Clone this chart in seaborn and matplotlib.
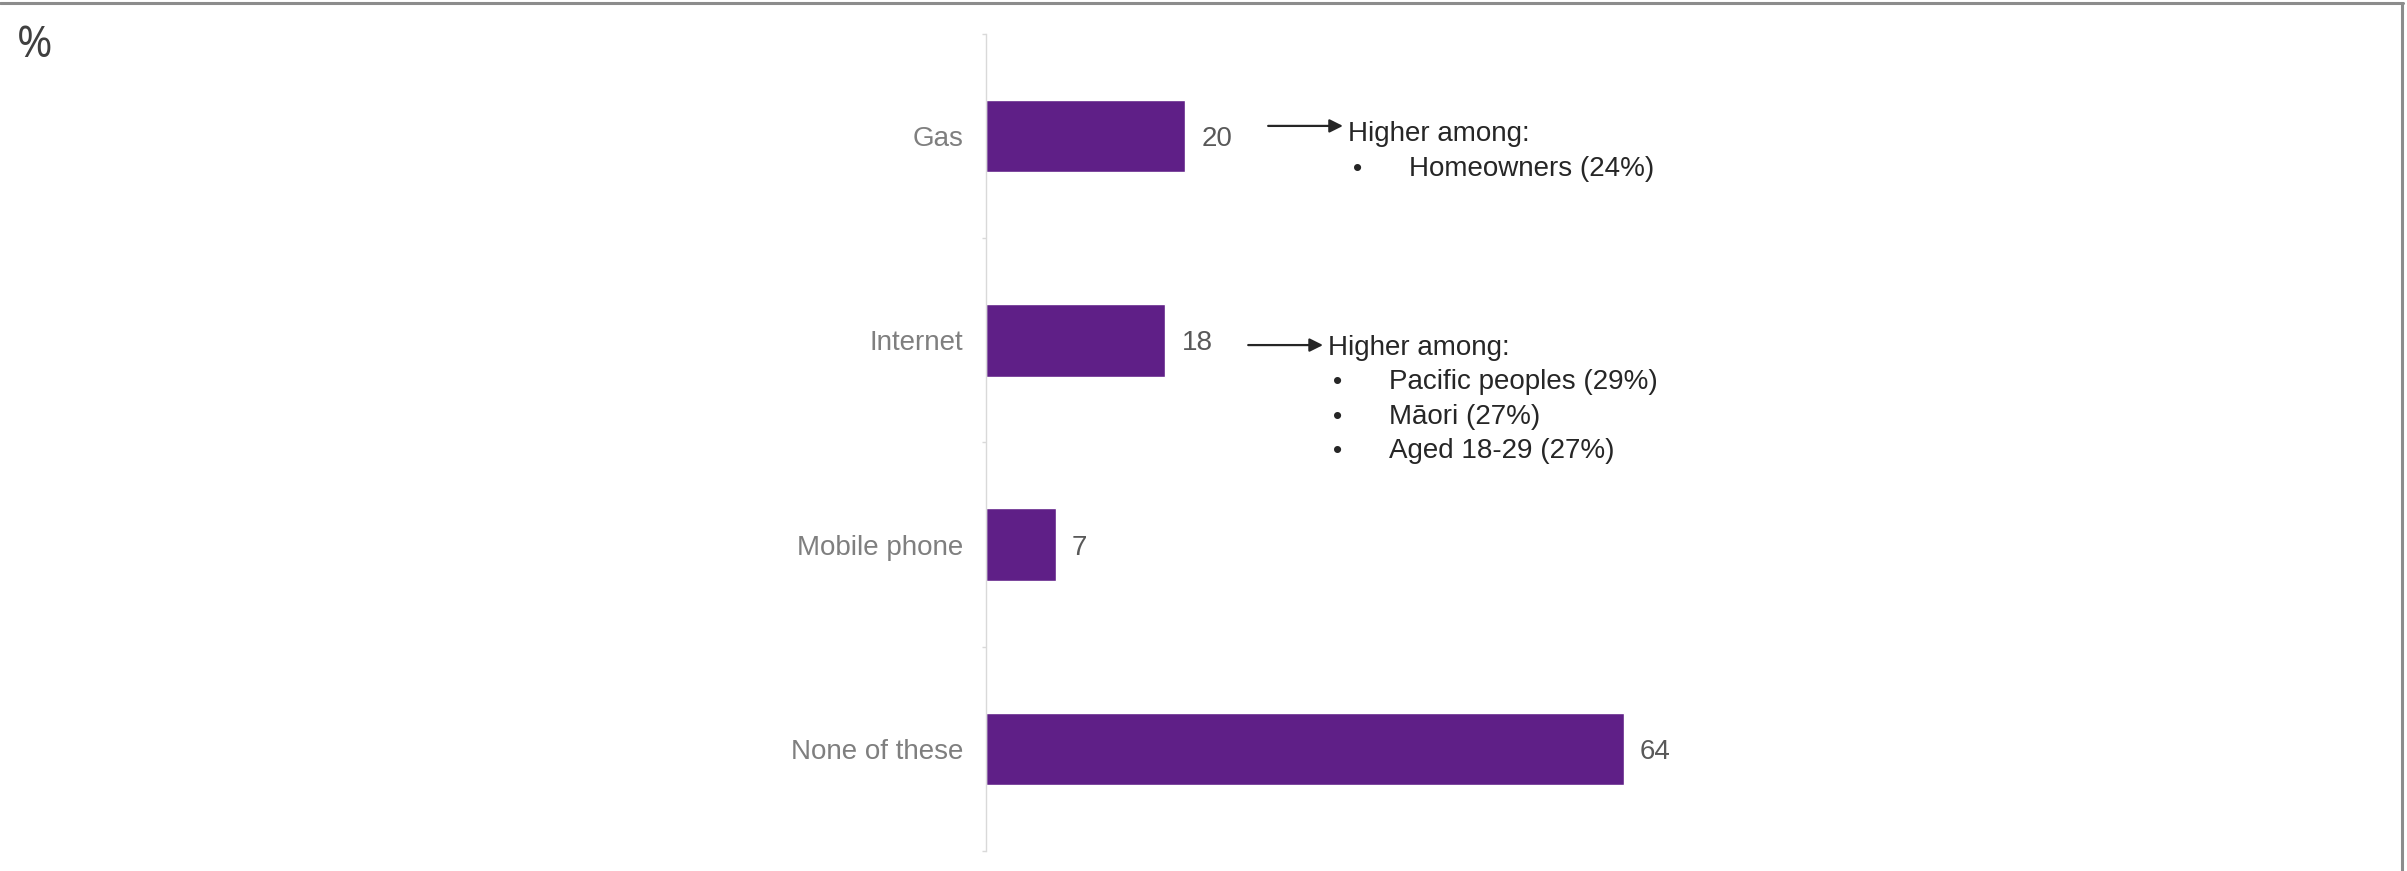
import matplotlib
matplotlib.use("Agg")
import matplotlib.pyplot as plt
import seaborn as sns
import pandas as pd
from matplotlib.lines import Line2D

# Data
categories = ["Gas", "Internet", "Mobile phone", "None of these"]
values = [20, 18, 7, 64]

# call-out notes next to some of the bars
gas_note = ["Higher among:", "Homeowners (24%)"]
internet_note = ["Higher among:", "Pacific peoples (29%)", "Māori (27%)", "Aged 18-29 (27%)"]

BAR_COLOR = "#5F1F87"
LABEL_GREY = "#7F7F7F"
VALUE_GREY = "#595959"
NOTE_COLOR = "#262626"
AXIS_GREY = "#D9D9D9"
FONT_SIZE = 20

df = pd.DataFrame({"category": categories, "pct": values})

sns.set_theme(style="white")
plt.rcParams["font.family"] = ["Liberation Sans", "DejaVu Sans"]

W, H = 2407, 871
fig = plt.figure(figsize=(W / 100, H / 100), dpi=100)
ax = fig.add_axes([986 / W, 1 - 851 / H, 997 / W, (851 - 34) / H])

sns.barplot(
    data=df, x="pct", y="category", orient="h", color=BAR_COLOR,
    saturation=1, width=0.355, errorbar=None, ax=ax,
)
ax.set_xlim(0, 100)
ax.set_ylim(len(categories) - 0.5, -0.5)
ax.set_xlabel("")
ax.set_ylabel("")
ax.set_xticks([])

for side in ["top", "right", "bottom"]:
    ax.spines[side].set_visible(False)
ax.spines["left"].set_color(AXIS_GREY)
ax.spines["left"].set_linewidth(1)

# category labels, small ticks between categories
ax.tick_params(axis="y", which="major", length=0, pad=16.5,
               labelsize=FONT_SIZE, labelcolor=LABEL_GREY)
ax.set_yticks([i - 0.5 for i in range(len(categories) + 1)], minor=True)
ax.tick_params(axis="y", which="minor", left=True, length=3, width=1,
               color=AXIS_GREY, direction="out")

value_labels = ax.bar_label(ax.containers[0], fmt="%d", padding=11.5,
                            fontsize=FONT_SIZE, color=VALUE_GREY)
for t in value_labels:
    t.set_va("center_baseline")

# arrows + notes: (bar index, lines, baseline of first line, arrow height)
# both offsets relative to the bar centre, in category units
notes = [(0, gas_note, 0.025, -0.05), (1, internet_note, 0.072, 0.023)]
line_step = 0.168
for idx, lines, dy, arrow_dy in notes:
    v = values[idx]
    y0 = idx + dy
    ya = idx + arrow_dy
    ax.annotate(
        "", xy=(v + 15.8, ya), xytext=(v + 8.3, ya),
        arrowprops=dict(arrowstyle="-|>", color=NOTE_COLOR, lw=1.6,
                        mutation_scale=20, shrinkA=0, shrinkB=0),
        annotation_clip=False,
    )
    ax.text(v + 16.3, y0, lines[0], va="baseline", ha="left",
            fontsize=FONT_SIZE, color=NOTE_COLOR)
    for k, item in enumerate(lines[1:], start=1):
        y = y0 + k * line_step
        ax.text(v + 16.8, y, "•", va="baseline", ha="left",
                fontsize=FONT_SIZE - 1, color=NOTE_COLOR)
        ax.text(v + 22.4, y, item, va="baseline", ha="left",
                fontsize=FONT_SIZE, color=NOTE_COLOR)

# unit marker top-left
fig.text(17 / W, 1 - 57 / H, "%", va="baseline", ha="left",
         fontsize=31, color="#404040", family=["Open Sans", "DejaVu Sans"])

# grey frame on top and right edge
fig.add_artist(Line2D([0, 2403 / W], [1 - 3 / H, 1 - 3 / H],
                      transform=fig.transFigure, color="#8C8C8C", lw=2.2))
fig.add_artist(Line2D([2402 / W, 2402 / W], [0, 1 - 3 / H],
                      transform=fig.transFigure, color="#8C8C8C", lw=2.2))

fig.savefig("out.png", dpi=100)
